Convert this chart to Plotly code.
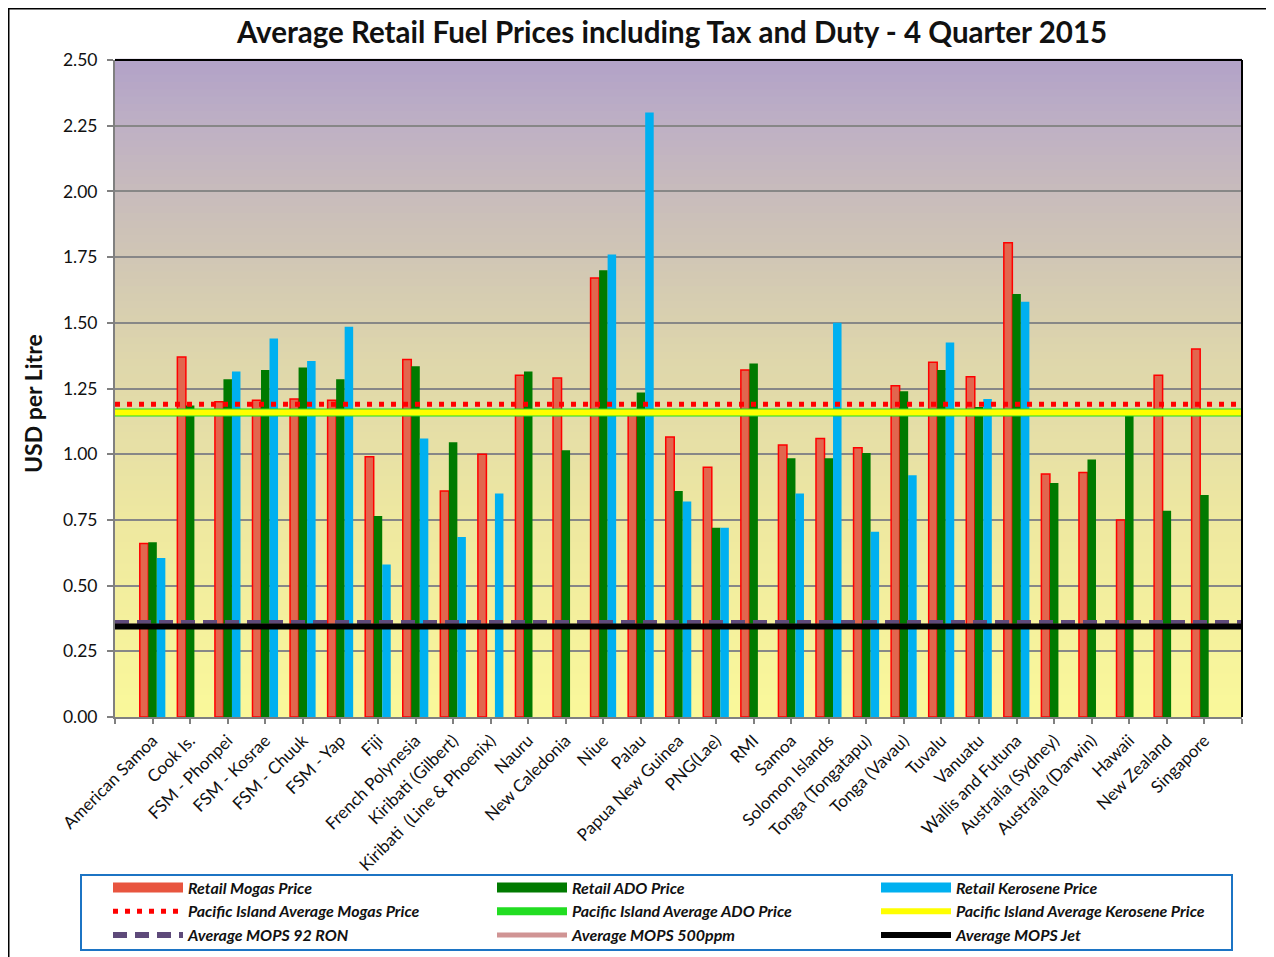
import plotly.graph_objects as go

# ---------------- data ----------------
categories = [
    "American Samoa", "Cook Is.", "FSM - Phonpei", "FSM - Kosrae", "FSM - Chuuk",
    "FSM - Yap", "Fiji", "French Polynesia", "Kiribati (Gilbert)",
    "Kiribati  (Line & Phoenix)", "Nauru", "New Caledonia", "Niue", "Palau",
    "Papua New Guinea", "PNG(Lae)", "RMI", "Samoa", "Solomon Islands",
    "Tonga (Tongatapu)", "Tonga (Vavau)", "Tuvalu", "Vanuatu", "Wallis and Futuna",
    "Australia (Sydney)", "Australia (Darwin)", "Hawaii", "New Zealand", "Singapore",
]
mogas = [0.66, 1.37, 1.20, 1.205, 1.21, 1.205, 0.99, 1.36, 0.86, 1.00,
         1.30, 1.29, 1.67, 1.15, 1.065, 0.95, 1.32, 1.035, 1.06, 1.025,
         1.26, 1.35, 1.295, 1.805, 0.925, 0.93, 0.75, 1.30, 1.40]
ado = [0.665, 1.185, 1.285, 1.32, 1.33, 1.285, 0.765, 1.335, 1.045, None,
       1.315, 1.015, 1.70, 1.235, 0.86, 0.72, 1.345, 0.985, 0.985, 1.005,
       1.24, 1.32, 1.18, 1.61, 0.89, 0.98, 1.15, 0.785, 0.845]
kerosene = [0.605, None, 1.315, 1.44, 1.355, 1.485, 0.58, 1.06, 0.685, 0.85,
            None, None, 1.76, 2.30, 0.82, 0.72, None, 0.85, 1.50, 0.705,
            0.92, 1.425, 1.21, 1.58, None, None, None, None, None]

avg_mogas = 1.19
avg_ado = 1.159
avg_kerosene = 1.159
mops_92 = 0.358
mops_500 = 0.345
mops_jet = 0.344

tick_values = list(range(0, len(categories) + 2))
tick_labels = [""] + categories + [""]
x_range = [0, len(categories) + 1]
x_pos = list(range(1, len(categories) + 1))

FONT = "Lato"

# page offset (default body margin of the html page)
OFF = 8
W, H = 1274 - OFF, 957 - OFF
ML, MR, MT, MB = 107, 32, 52, 240
PW, PH = W - ML - MR, H - MT - MB


def px_x(page_px):
    return (page_px - OFF - ML) / PW


def px_y(page_py):
    return (H - MB - (page_py - OFF)) / PH


fig = go.Figure()

bar_series = [
    ("Retail Mogas Price", mogas, "#E2664E", dict(color="#FF0000", width=1.5), "#E8553F"),
    ("Retail ADO Price", ado, "#007A00", dict(width=0), "#007A00"),
    ("Retail Kerosene Price", kerosene, "#00B0F0", dict(width=0), "#00B0F0"),
]
rank = 1
for name, vals, color, edge, legcolor in bar_series:
    fig.add_trace(go.Bar(x=x_pos, y=vals, name=name, legendgroup=name, showlegend=False,
                         marker=dict(color=color, line=edge)))
    # legend-only entry with a wide rectangular swatch
    fig.add_trace(go.Scatter(x=[None], y=[None], mode="lines", name=name,
                             legendgroup=name, legendrank=rank,
                             line=dict(color=legcolor, width=10), hoverinfo="skip"))
    rank += 1


def hline(val, name, color, width, dash="solid"):
    global rank
    fig.add_trace(go.Scatter(x=x_range, y=[val, val], mode="lines", name=name,
                             legendrank=rank,
                             line=dict(color=color, width=width, dash=dash),
                             hoverinfo="skip"))
    rank += 1


hline(avg_mogas, "Pacific Island Average Mogas Price", "#FF0000", 5, "5px,7px")
hline(avg_ado, "Pacific Island Average ADO Price", "#22DD22", 8)
hline(avg_kerosene, "Pacific Island Average Kerosene Price", "#FFFF00", 6)
hline(mops_92, "Average MOPS 92 RON", "#5E4A7A", 6, "14px,8px")
hline(mops_500, "Average MOPS 500ppm", "#D09494", 5)
hline(mops_jet, "Average MOPS Jet", "#000000", 6)

# ---------------- background gradient (plot area) ----------------
stops = [
    (0.00, (250, 248, 154)),
    (0.30, (238, 232, 160)),
    (0.55, (222, 214, 172)),
    (0.75, (204, 193, 184)),
    (0.90, (190, 176, 196)),
    (1.00, (178, 162, 200)),
]


def grad_color(t):
    for (t0, c0), (t1, c1) in zip(stops[:-1], stops[1:]):
        if t0 <= t <= t1:
            f = (t - t0) / (t1 - t0)
            return "rgb(%d,%d,%d)" % tuple(round(a + (b - a) * f) for a, b in zip(c0, c1))
    return "rgb(%d,%d,%d)" % stops[-1][1]


shapes = []
N = 90
for i in range(N):
    y0 = i / N
    y1 = (i + 1) / N
    shapes.append(dict(type="rect", xref="x domain", yref="y domain",
                       x0=0, x1=1, y0=y0, y1=y1 + 0.002, layer="below",
                       line=dict(width=0), fillcolor=grad_color((y0 + y1) / 2)))

# plot-area top/right black border
shapes.append(dict(type="line", xref="paper", yref="paper", x0=0, x1=1, y0=1, y1=1,
                   line=dict(color="black", width=2), layer="above"))
shapes.append(dict(type="line", xref="paper", yref="paper", x0=1, x1=1, y0=0, y1=1,
                   line=dict(color="black", width=2), layer="above"))

# outer chart frame
shapes.append(dict(type="rect", xref="paper", yref="paper",
                   x0=px_x(8.75), x1=px_x(1272.5), y0=px_y(975), y1=px_y(8.75),
                   line=dict(color="black", width=1.5), layer="below"))
# legend frame
shapes.append(dict(type="rect", xref="paper", yref="paper",
                   x0=px_x(81), x1=px_x(1232), y0=px_y(950), y1=px_y(875),
                   line=dict(color="#1C74C4", width=2), fillcolor="white", layer="below"))

fig.update_layout(
    width=W, height=H,
    margin=dict(l=ML, r=MR, t=MT, b=MB, autoexpand=False),
    paper_bgcolor="white",
    plot_bgcolor="rgba(0,0,0,0)",
    barmode="group",
    bargap=0.32,
    bargroupgap=0,
    shapes=shapes,
    font=dict(family=FONT, color="#222222"),
    title=dict(text="Average Retail Fuel Prices including Tax and Duty - 4 Quarter 2015",
               font=dict(family=FONT, size=29.5, color="#111111", weight="bold"),
               x=px_x(672), xref="paper", xanchor="center",
               y=1 - (33 - OFF) / H, yref="container", yanchor="middle"),
    showlegend=True,
    legend=dict(orientation="h", x=px_x(108), xanchor="left",
                y=px_y(870.5), yanchor="top",
                bgcolor="rgba(0,0,0,0)", borderwidth=0,
                itemwidth=70,
                entrywidth=299, entrywidthmode="pixels",
                traceorder="normal",
                font=dict(family=FONT, size=16, color="#111111",
                          weight="bold", style="italic")),
    annotations=[dict(text="USD per Litre", xref="paper", yref="paper",
                      x=px_x(33), y=px_y(404), xanchor="center", yanchor="middle",
                      textangle=-90, showarrow=False,
                      font=dict(family=FONT, size=23, color="#111111", weight="bold"))],
)

fig.update_xaxes(
    range=x_range, tickmode="array", tickvals=tick_values, ticktext=tick_labels,
    tickangle=-45, ticks="outside", ticklen=5, tickcolor="#808080", tickwidth=2,
    showgrid=False, zeroline=False, showline=True, linecolor="#808080", linewidth=2,
    tickfont=dict(family=FONT, size=17, color="#111111"), automargin=False,
)
fig.update_yaxes(
    range=[0, 2.5], dtick=0.25, tick0=0, tickformat=".2f",
    ticks="outside", ticklen=6, tickcolor="#808080", tickwidth=2,
    ticklabelstandoff=6,
    showgrid=True, gridcolor="#878787", gridwidth=2, zeroline=False,
    showline=True, linecolor="#808080", linewidth=2,
    tickfont=dict(family=FONT, size=17.5, color="#111111"), automargin=False,
)

fig.write_html("out.html")
